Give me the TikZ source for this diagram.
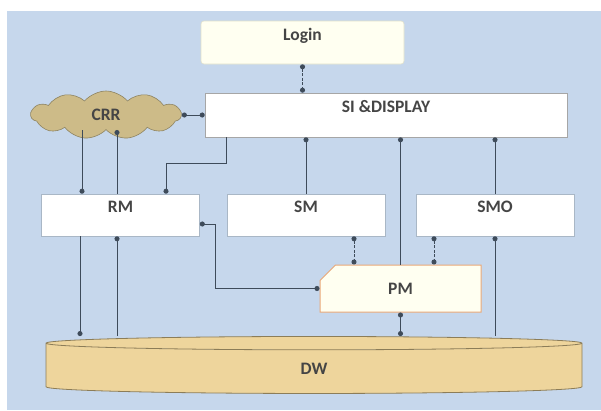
\documentclass[tikz,border=0pt]{standalone}
\usepackage{fontspec}
\setmainfont{Carlito}
\usetikzlibrary{arrows.meta, positioning, shapes.geometric, shapes.symbols, shapes.misc}
\definecolor{backblue} {HTML}{C6D7EC}
\definecolor{boxline}  {HTML}{A9B7C6}
\definecolor{loginfill}{HTML}{FFFFF1}
\definecolor{loginline}{HTML}{E2E2CC}
\definecolor{cloudfill}{HTML}{CDBB88}
\definecolor{cloudline}{HTML}{8E8462}
\definecolor{woodfill} {HTML}{EED59C}
\definecolor{woodline} {HTML}{8C7D58}
\definecolor{pmline}   {HTML}{E9A878}
\definecolor{wire}     {HTML}{3E4B5A}
\definecolor{txt}      {HTML}{454545}

\begin{document}
\begin{tikzpicture}[
    x=1pt, y=-1pt,
    box/.style={draw=boxline, fill=white, line width=0.6pt,
                minimum width=158pt, minimum height=42pt, inner sep=0pt,
                text height=11pt, text depth=16pt,
                font=\fontsize{17.5}{20}\selectfont\bfseries, text=txt},
    lnk/.style={{Circle[length=5pt]}-{Circle[length=5pt]}, line width=0.9pt, color=wire},
    arr/.style={-{Circle[length=5pt]}, line width=0.9pt, color=wire},
    dsh/.style={lnk, dash pattern=on 3pt off 1.5pt},
  ]
    % page and background
    \useasboundingbox (0,0) rectangle (601,410);
    \fill[backblue] (7,11) rectangle (601,410);

    % boxes
    \node[box, fill=loginfill, draw=loginline, rounded corners=3pt,
          minimum width=203pt, minimum height=43pt] (login) at (302.5,42.5) {Login};
    \node[box, draw=gray!70, minimum width=362pt, minimum height=44pt] (sidisp) at (386,115) {SI \&DISPLAY};
    \node[cloud, cloud puffs=11, cloud puff arc=100, aspect=3,
          fill=cloudfill, draw=cloudline, line width=0.6pt,
          minimum width=150pt, minimum height=48pt, inner sep=0pt,
          font=\fontsize{17.5}{20}\selectfont\bfseries, text=txt] (crr) at (106,115) {CRR};
    \node[box] (rm)  at (120.5,215) {RM};
    \node[box] (sm)  at (306,215)   {SM};
    \node[box] (smo) at (495,215)   {SMO};
    \node[box, chamfered rectangle, chamfered rectangle corners=north west,
          chamfered rectangle xsep=14pt, chamfered rectangle ysep=10pt,
          draw=pmline, fill=loginfill, line width=1pt,
          minimum width=161pt, minimum height=47pt,
          text height=11pt, text depth=0pt] (pm) at (400.5,288.5) {PM};
    \node[cylinder, shape border rotate=90, aspect=0.5,
          draw=woodline, line width=0.8pt,
          cylinder uses custom fill, cylinder body fill=woodfill, cylinder end fill=woodfill,
          minimum width=536pt, minimum height=57pt, inner sep=0pt,
          font=\fontsize{17.5}{20}\selectfont\bfseries, text=txt] (dw) at (314,368.5) {DW};

    % connectors
    \draw[dsh] (login.south) -- (login.south |- sidisp.north);
    \draw[lnk] (crr.east) -- (crr.east -| sidisp.west);
    \draw[arr] ([xshift=22pt]sidisp.south west) -- ++(0,26) -| ([xshift=45.5pt]rm.north);
    \draw[arr] ([xshift=-38.5pt]rm.north |- crr.south) -- ([xshift=-38.5pt]rm.north);
    \draw[arr] ([xshift=-3.5pt]rm.north) -- ([xshift=-3.5pt]rm.north |- crr.south);
    \draw[arr] (sm.north) -- (sm.north |- sidisp.south);
    \draw[arr] (pm.north) -- (pm.north |- sidisp.south);
    \draw[arr] (smo.north) -- (smo.north |- sidisp.south);
    \draw[arr] ([xshift=-40.5pt]rm.south) -- ([xshift=-40.5pt]rm.south |- dw.north);
    \draw[arr] ([xshift=-3.5pt]rm.south |- dw.north) -- ([xshift=-3.5pt]rm.south);
    \draw[dsh] ([xshift=48pt]sm.south) -- ([xshift=48pt]sm.south |- pm.north);
    \draw[dsh] ([xshift=-61pt]smo.south) -- ([xshift=-61pt]smo.south |- pm.north);
    \draw[arr] (smo.south |- dw.north) -- (smo.south);
    \draw[lnk] (pm.south) -- (pm.south |- dw.north);
    \draw[lnk] ([yshift=-9pt]rm.east) -- ++(16,0) |- (pm.west);
\end{tikzpicture}
\end{document}
